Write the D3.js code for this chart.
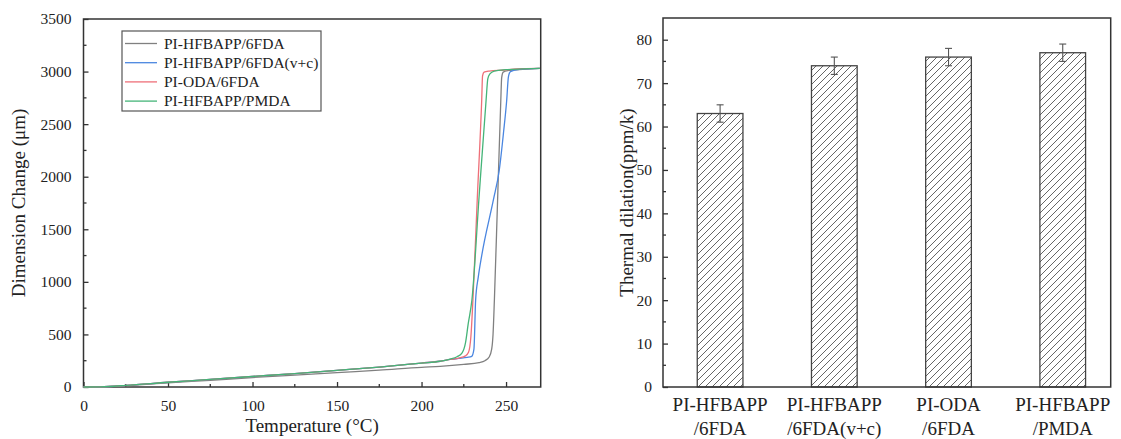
<!DOCTYPE html>
<html>
<head>
<meta charset="utf-8">
<script src="https://cdn.jsdelivr.net/npm/d3@7"></script>
<style>
  body { margin: 0; background: #fff; }
  svg text { font-family: "Liberation Serif", "Times New Roman", serif; fill: #222; }
</style>
</head>
<body>
<div id="chart"></div>
<script>
// ---- data: left panel (dimension change vs temperature) ----
const seriesNames = ["PI-HFBAPP/6FDA", "PI-HFBAPP/6FDA(v+c)", "PI-ODA/6FDA", "PI-HFBAPP/PMDA"];
const seriesColors = ["#808080", "#4a86e0", "#ee6f78", "#45b478"];

// [temperature °C, change µm]
const grayPts = [[0,0],[10,0],[25,12],[50,40],[75,64],[100,90],[125,113],[150,137],[175,160],[200,187],[211,196],[225,215],[234,232],[237.5,250],[240,285],[241.5,360],[242.3,500],[243.1,827],[245,1780],[246.9,2730],[247.4,2940],[248.3,2995],[251,3010],[260,3022],[270,3030]];
const bluePts = [[0,0],[10,2],[25,15],[50,45],[75,72],[100,100],[125,128],[150,158],[175,190],[200,228],[211,245],[217,262],[222,272],[227,282],[229.7,292],[231,360],[232,827],[233.6,1049],[235.6,1250],[242.5,1779],[246,2064],[248.5,2420],[250.4,2730],[251.4,2950],[252.6,3000],[258,3020],[270,3030]];
const redPts = [[0,0],[10,2],[25,15],[50,45],[75,72],[100,100],[125,128],[150,158],[175,190],[200,228],[211,245],[217,262],[222,275],[226,296],[227.8,330],[229.2,480],[230.4,827],[233,1800],[235.6,2730],[236.1,2960],[237,2995],[240,3005],[249,3015],[256,3025],[270,3030]];
const greenPts = [[0,0],[10,2],[25,15],[50,45],[75,72],[100,100],[125,128],[150,158],[175,190],[200,228],[211,245],[217,265],[221,288],[224,325],[226,420],[227.6,600],[229.8,827],[234,1800],[238.2,2730],[239.2,2930],[240.3,2975],[243,3005],[250,3018],[260,3025],[270,3030]];
const seriesPts = [grayPts, bluePts, redPts, greenPts];

const tempTicks = [0, 50, 100, 150, 200, 250];
const changeTicks = [0, 500, 1000, 1500, 2000, 2500, 3000, 3500];

// ---- data: right panel (thermal dilation) ----
const barLabels = [["PI-HFBAPP", "/6FDA"], ["PI-HFBAPP", "/6FDA(v+c)"], ["PI-ODA", "/6FDA"], ["PI-HFBAPP", "/PMDA"]];
const barValues = [63, 74, 76, 77];
const barErrors = [2, 2, 2, 2];
const dilationTicks = [0, 10, 20, 30, 40, 50, 60, 70, 80];

const width = 1121, height = 439;
const serif = "Liberation Serif, Times New Roman, serif";
const svg = d3.select("#chart").append("svg")
  .attr("width", width)
  .attr("height", height);

const axisColor = "#333";

/** LEFT PANEL */
const L = { left: 83.5, right: 540.7, top: 19, bottom: 387 };
const xT = d3.scaleLinear().domain([0, 270.5]).range([L.left, L.right]);
const yC = d3.scaleLinear().domain([0, 3500]).range([L.bottom, L.top]);

// frame
svg.append("rect")
  .attr("x", L.left).attr("y", L.top)
  .attr("width", L.right - L.left).attr("height", L.bottom - L.top)
  .attr("fill", "none").attr("stroke", axisColor).attr("stroke-width", 1.5);

// minor ticks (inward)
svg.append("g").selectAll("line")
  .data(d3.range(25, 270, 50))
  .join("line")
  .attr("x1", d => xT(d)).attr("x2", d => xT(d))
  .attr("y1", L.bottom).attr("y2", L.bottom - 3)
  .attr("stroke", axisColor).attr("stroke-width", 1.3);
svg.append("g").selectAll("line")
  .data(d3.range(250, 3500, 500))
  .join("line")
  .attr("y1", d => yC(d)).attr("y2", d => yC(d))
  .attr("x1", L.left).attr("x2", L.left + 3)
  .attr("stroke", axisColor).attr("stroke-width", 1.3);

// major axes
const xAxisL = svg.append("g")
  .attr("transform", `translate(0,${L.bottom})`)
  .call(d3.axisBottom(xT).tickValues(tempTicks).tickFormat(d3.format("d"))
    .tickSizeInner(-5).tickSizeOuter(0).tickPadding(13));
const yAxisL = svg.append("g")
  .attr("transform", `translate(${L.left},0)`)
  .call(d3.axisLeft(yC).tickValues(changeTicks).tickFormat(d3.format("d"))
    .tickSizeInner(-5).tickSizeOuter(0).tickPadding(12));
[xAxisL, yAxisL].forEach(g => {
  g.attr("font-family", serif).attr("font-size", 15.5);
  g.select(".domain").remove();
  g.selectAll(".tick line").attr("stroke", axisColor).attr("stroke-width", 1.3);
  g.selectAll(".tick text").attr("fill", "#222");
});

// curves
const line = d3.line()
  .x(d => xT(d[0]))
  .y(d => yC(d[1]))
  .curve(d3.curveMonotoneX);

svg.append("g").selectAll("path")
  .data(seriesPts)
  .join("path")
  .attr("d", d => line(d))
  .attr("fill", "none")
  .attr("stroke", (d, i) => seriesColors[i])
  .attr("stroke-width", 1.3);

// legend
const leg = svg.append("g");
leg.append("rect")
  .attr("x", 122).attr("y", 31).attr("width", 199).attr("height", 80)
  .attr("fill", "#fff").attr("stroke", "#555").attr("stroke-width", 1.2);
seriesNames.forEach((name, i) => {
  const y = 43.5 + i * 19.2;
  leg.append("line")
    .attr("x1", 125).attr("x2", 157).attr("y1", y).attr("y2", y)
    .attr("stroke", seriesColors[i]).attr("stroke-width", 1.3);
  leg.append("text")
    .attr("x", 164).attr("y", y + 5)
    .attr("font-size", 15.5)
    .text(name);
});

// titles
svg.append("text")
  .attr("x", (L.left + L.right) / 2).attr("y", 432)
  .attr("text-anchor", "middle").attr("font-size", 19)
  .text("Temperature (°C)");
svg.append("text")
  .attr("transform", `translate(25,${(L.top + L.bottom) / 2}) rotate(-90)`)
  .attr("text-anchor", "middle").attr("font-size", 19)
  .text("Dimension Change (μm)");

/** RIGHT PANEL */
const R = { left: 663, right: 1110.7, top: 18, bottom: 387 };
// categories placed at 1..4 on a linear scale
const xB = d3.scaleLinear().domain([0.5, 4.42]).range([R.left, R.right]);
const yB = d3.scaleLinear().domain([0, 85]).range([R.bottom, R.top]);
const barW = 0.4; // in category units

// hatch pattern
const defs = svg.append("defs");
const pat = defs.append("pattern")
  .attr("id", "hatch")
  .attr("patternUnits", "userSpaceOnUse")
  .attr("width", 7).attr("height", 7);
pat.append("rect").attr("width", 7).attr("height", 7).attr("fill", "#fff");
pat.append("path")
  .attr("d", "M-1,1 l2,-2 M0,7 l7,-7 M6,8 l2,-2")
  .attr("stroke", "#555").attr("stroke-width", 0.9);

// bars
svg.append("g").selectAll("rect")
  .data(barValues)
  .join("rect")
  .attr("x", (d, i) => xB(i + 1 - barW / 2))
  .attr("width", xB(1 + barW / 2) - xB(1 - barW / 2))
  .attr("y", d => yB(d))
  .attr("height", d => yB(0) - yB(d))
  .attr("fill", "url(#hatch)")
  .attr("stroke", "#444").attr("stroke-width", 1.3);

// error bars
const eb = svg.append("g").attr("stroke", "#555").attr("stroke-width", 1.1);
barValues.forEach((v, i) => {
  const cx = xB(i + 1);
  eb.append("line").attr("x1", cx).attr("x2", cx)
    .attr("y1", yB(v - barErrors[i])).attr("y2", yB(v + barErrors[i]));
  [v - barErrors[i], v + barErrors[i]].forEach(e => {
    eb.append("line").attr("x1", cx - 3.5).attr("x2", cx + 3.5)
      .attr("y1", yB(e)).attr("y2", yB(e));
  });
});

// frame
svg.append("rect")
  .attr("x", R.left).attr("y", R.top)
  .attr("width", R.right - R.left).attr("height", R.bottom - R.top)
  .attr("fill", "none").attr("stroke", axisColor).attr("stroke-width", 1.5);

// minor y ticks
svg.append("g").selectAll("line")
  .data(d3.range(5, 85, 10))
  .join("line")
  .attr("y1", d => yB(d)).attr("y2", d => yB(d))
  .attr("x1", R.left).attr("x2", R.left + 3)
  .attr("stroke", axisColor).attr("stroke-width", 1.3);

const yAxisR = svg.append("g")
  .attr("transform", `translate(${R.left},0)`)
  .call(d3.axisLeft(yB).tickValues(dilationTicks).tickSizeInner(-5).tickSizeOuter(0).tickPadding(11));
yAxisR.attr("font-family", serif).attr("font-size", 15.5);
yAxisR.select(".domain").remove();
yAxisR.selectAll(".tick line").attr("stroke", axisColor).attr("stroke-width", 1.3);
yAxisR.selectAll(".tick text").attr("fill", "#222");

// category labels
barLabels.forEach((lines, i) => {
  lines.forEach((t, j) => {
    svg.append("text")
      .attr("x", xB(i + 1)).attr("y", 411 + j * 24)
      .attr("text-anchor", "middle").attr("font-size", 19)
      .text(t);
  });
});

svg.append("text")
  .attr("transform", `translate(633,${(R.top + R.bottom) / 2}) rotate(-90)`)
  .attr("text-anchor", "middle").attr("font-size", 19)
  .text("Thermal dilation(ppm/k)");
</script>
</body>
</html>
